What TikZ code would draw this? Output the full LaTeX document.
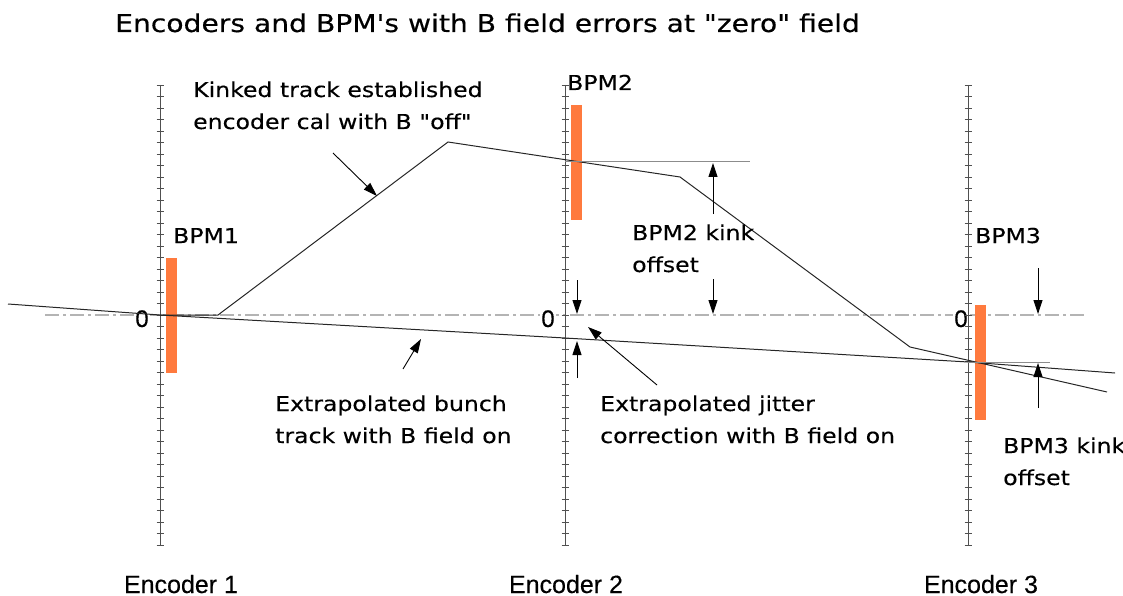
\documentclass[tikz,border=0pt]{standalone}
\usepackage{fontspec}
\setmainfont{DejaVu Sans}[FakeStretch=1.15,FakeBold=0.35,Ligatures=TeXOff]
\newfontfamily\narrowfont{Liberation Sans}[FakeBold=0.3]
\usetikzlibrary{arrows.meta}
\definecolor{bpmorange}{RGB}{255,122,62}
\definecolor{zerogray}{RGB}{180,180,180}
\definecolor{axisgray}{RGB}{80,80,80}
\tikzset{
  encaxis/.style={axisgray, line width=1pt},
  tickmark/.style={axisgray, line width=0.9pt},
  bpmbar/.style={fill=bpmorange, draw=none},
  trackline/.style={black!85, line width=1pt},
  refline/.style={black!45, line width=1pt},
  zeroline/.style={zerogray, line width=1.8pt, dash pattern=on 14pt off 4pt on 3pt off 4pt},
  ptr/.style={black, line width=0.9pt, -{Triangle[length=14pt,width=9pt]}},
  lbl/.style={anchor=base west, inner sep=0pt, font=\fontsize{20.5}{24}\selectfont},
  ttl/.style={anchor=base west, inner sep=0pt, font=\fontsize{24.5}{28}\selectfont},
  enclbl/.style={anchor=base, inner sep=0pt, font=\narrowfont\fontsize{25}{28}\selectfont},
  zerolbl/.style={anchor=base, inner sep=1pt, fill=white, font=\narrowfont\fontsize{24}{28}\selectfont},
}
\begin{document}
\begin{tikzpicture}[x=1pt,y=-1pt]
\useasboundingbox (0,0) rectangle (1123,596);

% title
\node[ttl] (title) at (115,32) {Encoders and BPM's with B field errors at "zero" field};

% zero reference line
\coordinate (zl) at (45,315);
\coordinate (zr) at (1085,315);
\draw[zeroline] (zl) -- (zr);

% zero labels
\node[zerolbl] (zero1) at (142,327) {0};
\node[zerolbl] (zero2) at (548,327) {0};
\node[zerolbl] (zero3) at (961,327) {0};

% encoder scales with tick marks
\foreach \ex/\nm in {160/e1,565/e2,968/e3}{
  \coordinate (\nm top) at (\ex,85);
  \coordinate (\nm bot) at (\ex,545);
  \draw[encaxis] (\nm top) -- (\nm bot);
  \foreach \k in {0,...,40}
    \draw[tickmark] (\ex-3.5,85+11.5*\k) -- (\ex+3.5,85+11.5*\k);
}

% BPM bars
\fill[bpmorange] (166,258) rectangle (177,373);
\fill[bpmorange] (571,105) rectangle (582,220);
\fill[bpmorange] (975,305) rectangle (986,420);

% extrapolated bunch track with B field on
\coordinate (b0) at (8,304);
\coordinate (b1) at (160,315);
\coordinate (b2) at (565,338);
\coordinate (b3) at (968,362);
\coordinate (b4) at (1115,373);
\draw[trackline] (b0) -- (b1) -- (b2) -- (b3) -- (b4);

% kinked track
\coordinate (k0) at (218,315);
\coordinate (k1) at (448,142);
\coordinate (k2) at (680,177);
\coordinate (k3) at (910,347);
\coordinate (k4) at (1107,392);
\draw[trackline] (b1) -- (k0) -- (k1) -- (k2) -- (k3) -- (k4);

% BPM offset reference lines
\coordinate (r2a) at (565,162);
\coordinate (r2b) at (750,162);
\coordinate (r3a) at (968,362);
\coordinate (r3b) at (1050,362);
\draw[refline] (r2a) -- (r2b);
\draw[refline] (r3a) -- (r3b);

% pointer arrows
\coordinate (pk0) at (333,153);  \coordinate (pk1) at (377,196);
\draw[ptr] (pk0) -- (pk1);
\coordinate (o2u0) at (713,214); \coordinate (o2u1) at (713,163);
\coordinate (o2d0) at (713,279); \coordinate (o2d1) at (713,314);
\draw[ptr] (o2u0) -- (o2u1);
\draw[ptr] (o2d0) -- (o2d1);
\coordinate (jd0) at (577,280);  \coordinate (jd1) at (577,314);
\coordinate (ju0) at (577,378);  \coordinate (ju1) at (577,341);
\draw[ptr] (jd0) -- (jd1);
\draw[ptr] (ju0) -- (ju1);
\coordinate (jl0) at (657,385);  \coordinate (jl1) at (588,327);
\draw[ptr] (jl0) -- (jl1);
\coordinate (bl0) at (403,369);  \coordinate (bl1) at (421,339);
\draw[ptr] (bl0) -- (bl1);
\coordinate (o3d0) at (1038,268); \coordinate (o3d1) at (1038,314);
\coordinate (o3u0) at (1038,408); \coordinate (o3u1) at (1038,363);
\draw[ptr] (o3d0) -- (o3d1);
\draw[ptr] (o3u0) -- (o3u1);

% labels
\node[lbl] (kinkA) at (193,97)  {Kinked track established};
\node[lbl] (kinkB) at (193,129) {encoder cal with B "off"};
\node[lbl] (bpm1) at (173,243) {BPM1};
\node[lbl] (bpm2) at (567,90)  {BPM2};
\node[lbl] (bpm3) at (975,243) {BPM3};
\node[lbl] (off2A) at (632,240) {BPM2 kink};
\node[lbl] (off2B) at (632,272) {offset};
\node[lbl] (bunA) at (275,411) {Extrapolated bunch};
\node[lbl] (bunB) at (275,443) {track with B field on};
\node[lbl] (jitA) at (600,411) {Extrapolated jitter};
\node[lbl] (jitB) at (600,443) {correction with B field on};
\node[lbl] (off3A) at (1003,453) {BPM3 kink};
\node[lbl] (off3B) at (1003,485) {offset};

% encoder names
\node[enclbl] (enc1) at (181,593) {Encoder 1};
\node[enclbl] (enc2) at (566,593) {Encoder 2};
\node[enclbl] (enc3) at (981,593) {Encoder 3};
\end{tikzpicture}
\end{document}
